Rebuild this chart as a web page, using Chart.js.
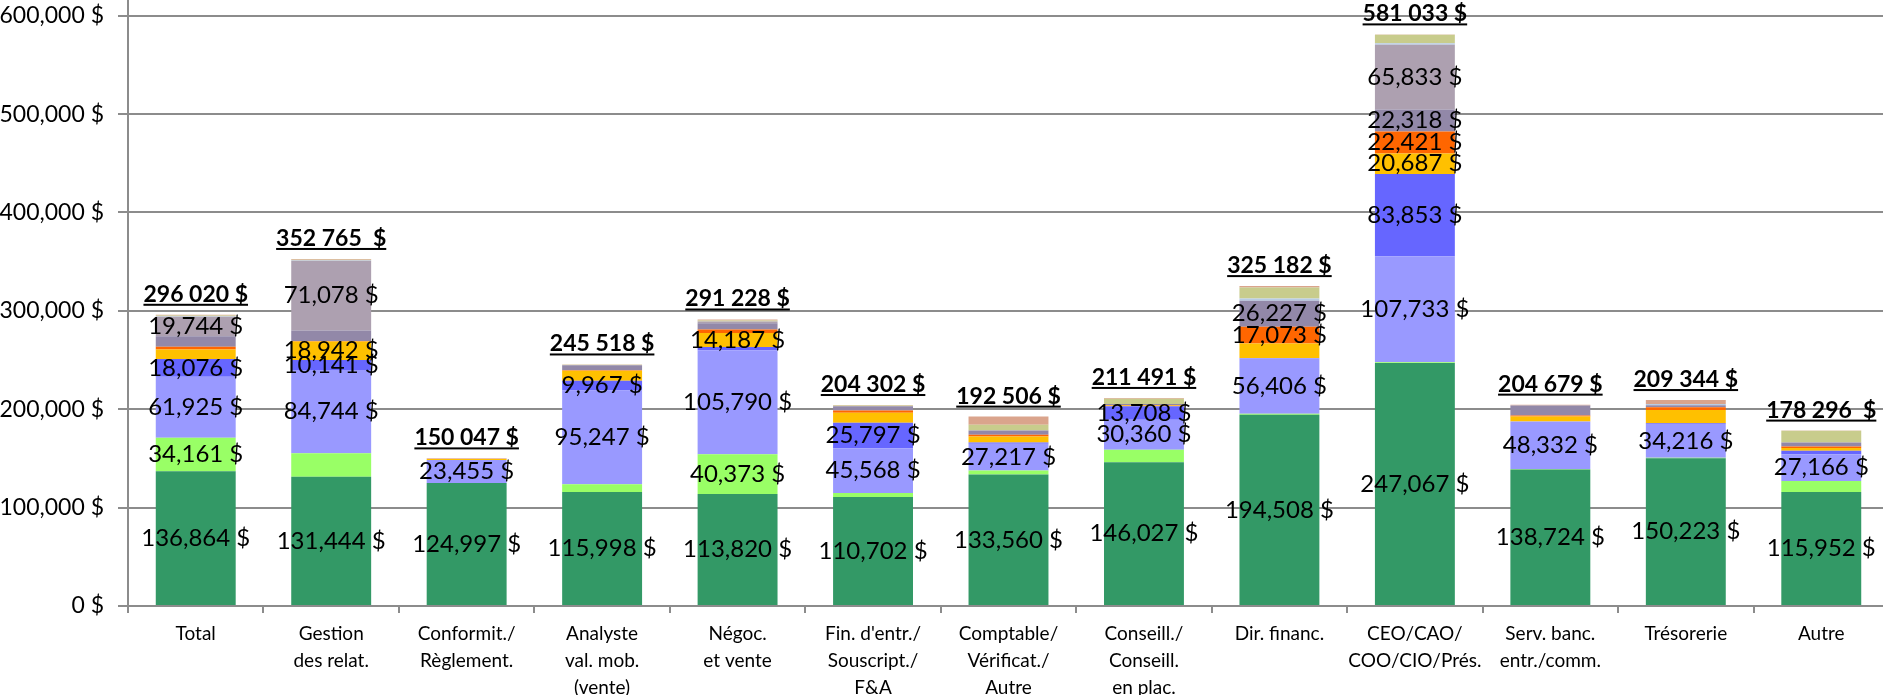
<!DOCTYPE html>
<html>
<head>
<meta charset="utf-8">
<script src="https://cdn.jsdelivr.net/npm/chart.js@4.4.1/dist/chart.umd.min.js"></script>
<style>
  html, body { margin: 0; padding: 0; background: #fff; overflow: hidden; }
  canvas { display: block; }
</style>
</head>
<body>
<canvas id="remChart" width="1889" height="695"></canvas>
<script>
// Catégories (axe X)
const categories = [
    ['Total'],
    ['Gestion', 'des relat.'],
    ['Conformit./', 'Règlement.'],
    ['Analyste', 'val. mob.', '(vente)'],
    ['Négoc.', 'et vente'],
    ["Fin. d'entr./", 'Souscript./', 'F&A'],
    ['Comptable/', 'Vérificat./', 'Autre'],
    ['Conseill./', 'Conseill.', 'en plac.'],
    ['Dir. financ.'],
    ['CEO/CAO/', 'COO/CIO/Prés.'],
    ['Serv. banc.', 'entr./comm.'],
    ['Trésorerie'],
    ['Autre']
];

// Composantes de la rémunération, de bas en haut
const base       = [136864, 131444, 124997, 115998, 113820, 110702, 133560, 146027, 194508, 247067, 138724, 150223, 115952];
const lightGreen = [34161, 23700, 0, 7800, 40373, 4100, 4100, 12900, 800, 600, 500, 500, 11200];
const periwinkle = [61925, 84744, 23455, 95247, 105790, 45568, 27217, 30360, 56406, 107733, 48332, 34216, 27166];
const blue       = [18076, 10141, 0, 9967, 3400, 25797, 1300, 13708, 500, 83853, 0, 700, 3400];
const gold       = [9800, 18942, 900, 10000, 14187, 10200, 6100, 800, 14668, 20687, 5100, 13600, 3000];
const orange     = [2600, 500, 300, 606, 3400, 2400, 1700, 500, 17073, 22421, 1000, 2700, 1500];
const greyPurple = [10850, 10500, 395, 5200, 6400, 4400, 4400, 1000, 26227, 22318, 10200, 2000, 4100];
const mauve      = [19744, 71078, 0, 0, 1858, 0, 0, 0, 0, 65833, 0, 0, 0];
const lightBlue  = [400, 400, 0, 0, 0, 0, 0, 0, 2400, 1600, 0, 1405, 0];
const khaki      = [1000, 500, 0, 300, 1000, 600, 5800, 5400, 11200, 8500, 0, 0, 11900];
const salmon     = [600, 816, 0, 400, 1000, 535, 8329, 796, 1400, 421, 823, 4000, 78];

// Totaux affichés au-dessus des barres
const totalLabels = ['296 020 $', '352 765  $', '150 047 $', '245 518 $', '291 228 $', '204 302 $',
    '192 506 $', '211 491 $', '325 182 $', '581 033 $', '204 679 $', '209 344 $', '178 296  $'];

// Graduations de l'axe Y
const yTicks = [0, 100000, 200000, 300000, 400000, 500000, 600000];

const ALL = categories.map((c, i) => i);
// quelles barres portent une étiquette, par série
const labelled = [ALL, [0, 4], ALL, [0, 1, 3, 5, 7, 9], [1, 4, 9], [8, 9], [8, 9], [0, 1, 9], [], [], []];

const series = [
    { data: base, color: '#339966' },
    { data: lightGreen, color: '#99FF66' },
    { data: periwinkle, color: '#9999FF' },
    { data: blue, color: '#6666FF' },
    { data: gold, color: '#FFC000' },
    { data: orange, color: '#FF6600' },
    { data: greyPurple, color: '#9288A8' },
    { data: mauve, color: '#ADA0B0' },
    { data: lightBlue, color: '#B8CCE4' },
    { data: khaki, color: '#C8CC8C' },
    { data: salmon, color: '#DAA48C' }
];

const money = v => v.toLocaleString('en-US') + ' $';
const GRID = '#8c8c8c';

const barLabels = {
    id: 'barLabels',
    afterDatasetsDraw(chart) {
        const ctx = chart.ctx;
        ctx.save();
        ctx.fillStyle = '#000';
        ctx.textAlign = 'center';
        ctx.textBaseline = 'middle';
        ctx.font = '24px Lato';
        chart.data.datasets.forEach((ds, i) => {
            const meta = chart.getDatasetMeta(i);
            labelled[i].forEach(j => {
                const bar = meta.data[j];
                if (!ds.data[j]) return;
                ctx.fillText(money(ds.data[j]), bar.x, (bar.y + bar.base) / 2);
            });
        });
        // totaux soulignés
        const topMeta = chart.getDatasetMeta(chart.data.datasets.length - 1);
        ctx.font = 'bold 23px Lato';
        ctx.textBaseline = 'alphabetic';
        topMeta.data.forEach((bar, j) => {
            const txt = totalLabels[j];
            const y = bar.y - 13;
            ctx.fillText(txt, bar.x, y);
            const w = ctx.measureText(txt).width;
            ctx.fillRect(bar.x - w / 2, y + 2, w, 2);
        });
        ctx.restore();
    }
};

Chart.defaults.font.family = 'Lato';
Chart.defaults.color = '#000';

new Chart(document.getElementById('remChart'), {
    type: 'bar',
    data: {
        labels: categories,
        datasets: series.map(s => ({
            data: s.data,
            backgroundColor: s.color,
            borderWidth: 0,
            barPercentage: 0.59,
            categoryPercentage: 1
        }))
    },
    options: {
        responsive: false,
        animation: false,
        layout: { padding: 0 },
        scales: {
            x: {
                stacked: true,
                grid: { drawOnChartArea: false, drawTicks: true, tickLength: 7, color: GRID, lineWidth: 2 },
                border: { display: true, color: GRID, width: 2 },
                ticks: { font: { size: 19, lineHeight: 1.42 }, padding: 7, maxRotation: 0, autoSkip: false },
                afterFit(scale) {
                    scale.height = 89;
                    scale.paddingLeft = 0;
                    scale.paddingRight = 0;
                }
            },
            y: {
                stacked: true,
                min: 0,
                max: 616000,
                grid: { color: GRID, lineWidth: 2, tickLength: 10 },
                border: { display: true, color: GRID, width: 2 },
                ticks: {
                    stepSize: 100000,
                    padding: 14,
                    font: { size: 23 },
                    callback: v => money(v)
                },
                afterBuildTicks(axis) {
                    axis.ticks = yTicks.map(v => ({ value: v }));
                },
                afterFit(scale) {
                    scale.width = 128;
                    scale.paddingTop = 0;
                    scale.paddingBottom = 0;
                }
            }
        },
        plugins: {
            legend: { display: false },
            tooltip: { enabled: false }
        }
    },
    plugins: [barLabels]
});
</script>
</body>
</html>
